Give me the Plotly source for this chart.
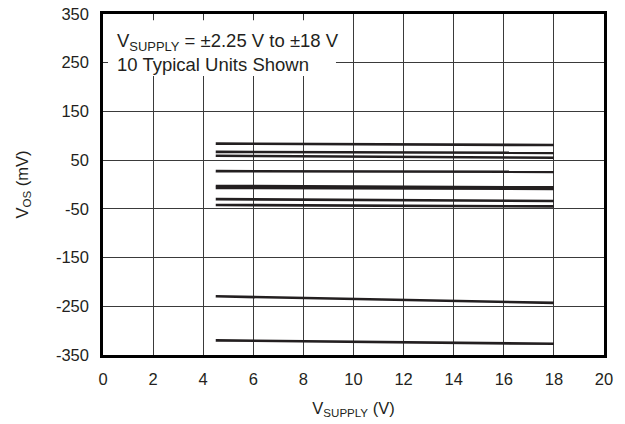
import plotly.graph_objects as go

# Supply voltage endpoints (V)
x_supply = [4.5, 18]

# Offset voltage of 10 typical units (mV), at start and end of sweep
unit_vos = [
    [84, 81],
    [67, 65],
    [59, 55],
    [27.5, 26],
    [-3, -6],
    [-7, -9],
    [-30, -34],
    [-42, -45],
    [-229.5, -243],
    [-320, -327],
]

x_ticks = [0, 2, 4, 6, 8, 10, 12, 14, 16, 18, 20]
y_ticks = [350, 250, 150, 50, -50, -150, -250, -350]

FONT = "Liberation Sans, Arial, sans-serif"
INK = "#231f20"

fig = go.Figure()
for vals in unit_vos:
    fig.add_trace(go.Scatter(
        x=x_supply, y=vals, mode="lines",
        line=dict(color=INK, width=2.6),
        showlegend=False, hoverinfo="skip",
    ))

fig.update_layout(
    width=625, height=424,
    margin=dict(l=103, r=21, t=14, b=69),
    paper_bgcolor="white", plot_bgcolor="white",
    font=dict(family=FONT, size=16.5, color=INK),
    showlegend=False,
)
fig.update_xaxes(
    range=[0, 20], tickvals=x_ticks, ticktext=[str(v) for v in x_ticks],
    showgrid=True, gridcolor="#3a3a3a", gridwidth=1,
    showline=True, linecolor="black", linewidth=2.5, mirror=True,
    zeroline=False, ticks="outside", ticklen=7, tickcolor="rgba(0,0,0,0)",
    title=dict(text="V<sub>SUPPLY</sub> (V)", font=dict(size=16.5), standoff=16),
    automargin=False,
)
fig.update_yaxes(
    range=[-350, 350], tickvals=y_ticks, ticktext=[str(v) for v in y_ticks],
    showgrid=True, gridcolor="#3a3a3a", gridwidth=1,
    showline=True, linecolor="black", linewidth=2.5, mirror=True,
    zeroline=False, ticks="outside", ticklen=8, tickcolor="rgba(0,0,0,0)",
    title=dict(text="V<sub>OS</sub> (mV)", font=dict(size=16.5), standoff=24),
    automargin=False,
)
# white box behind the note (hides gridlines)
fig.add_shape(
    type="rect", xref="paper", yref="paper",
    x0=0.01, x1=0.465, y0=0.818, y1=0.982,
    fillcolor="white", line=dict(width=0), layer="above",
)
fig.add_annotation(
    xref="paper", yref="paper", x=0.026, y=0.956,
    xanchor="left", yanchor="top", align="left",
    text="V<sub>SUPPLY</sub> = ±2.25 V to ±18 V<br>10 Typical Units Shown",
    showarrow=False, borderpad=0,
    font=dict(family=FONT, size=18.5, color=INK),
)

fig.write_html("out.html")
